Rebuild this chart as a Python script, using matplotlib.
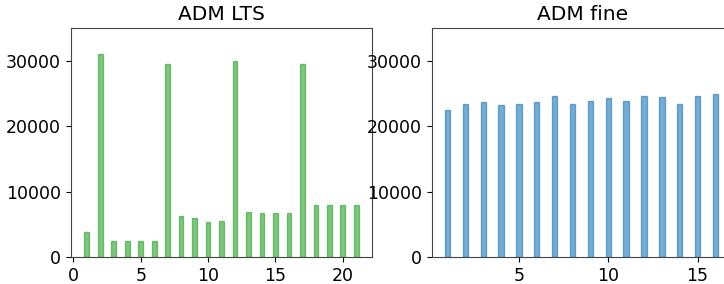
import matplotlib.pyplot as plt
import numpy as np

# ADM LTS (left panel)
lts_x = np.arange(1, 22)
lts_vals = [3900, 31030, 2460, 2460, 2460, 2460, 29440, 6200, 5890, 5430, 5530,
            30000, 6810, 6760, 6760, 6660, 29540, 7940, 7990, 7890, 7890]

# ADM fine (right panel, cut off at the figure edge)
fine_x = np.arange(1, 17)
fine_vals = [22480, 23450, 23660, 23250, 23450, 23660, 24580, 23350, 23860,
             24370, 23860, 24680, 24480, 23350, 24580, 24880]

fig = plt.figure(figsize=(7.24, 2.84), dpi=100)
ax1 = fig.add_axes([0.0977, 0.095, 0.4166, 0.806])
ax2 = fig.add_axes([0.5963, 0.095, 0.4166, 0.806])

ax1.bar(lts_x, lts_vals, width=0.35, color='tab:green', edgecolor='tab:green',
        alpha=0.6, linewidth=1)
ax2.bar(fine_x, fine_vals, width=0.3, color='tab:blue', edgecolor='tab:blue',
        alpha=0.6, linewidth=1)

ax1.set_title('ADM LTS', fontsize=14.5)
ax2.set_title('ADM fine', fontsize=14.5)
ax2.set_xlim(0.12, 17.0)

for ax in (ax1, ax2):
    ax.set_ylim(0, 35000)
    ax.set_yticks([0, 10000, 20000, 30000])
    ax.tick_params(labelsize=12.5)
    for s in ax.spines.values():
        s.set_color('#444444')

fig.savefig('out.png', dpi=100)
